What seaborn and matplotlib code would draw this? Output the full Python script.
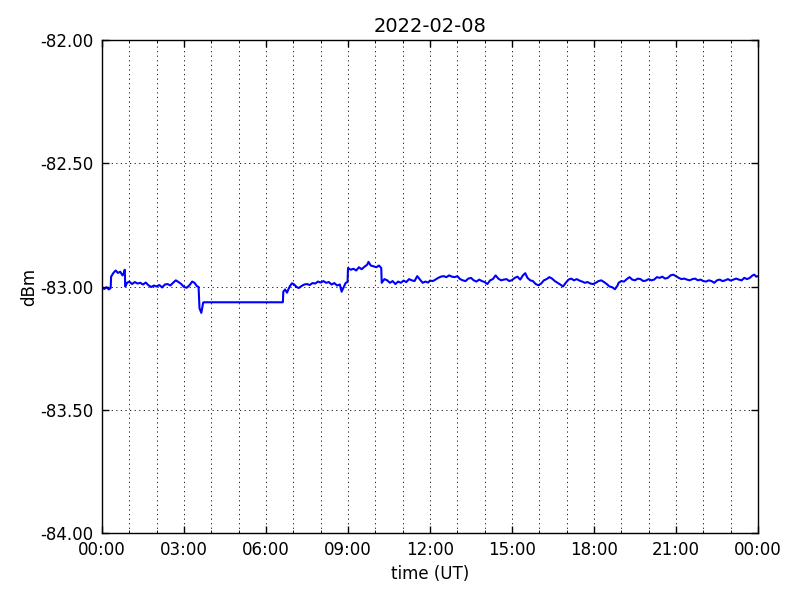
import numpy as np
import pandas as pd
import matplotlib
matplotlib.use("Agg")
import matplotlib.pyplot as plt
import matplotlib.dates as mdates
from matplotlib.ticker import FormatStrFormatter
import seaborn as sns

title = "2022-02-08"
x_label = "time (UT)"
y_label = "dBm"

# sample times (minutes after 00:00 UT) and signal level (dBm)
minutes = [
    0, 5, 10, 15, 19, 20, 25, 30, 35, 40, 45, 48, 50, 51,
    55, 60, 66, 72, 78, 84, 90, 96, 102, 108, 114, 120, 126, 132, 138, 144,
    150, 156, 162, 168, 174, 180, 186, 192, 198, 203, 208, 212,
    214, 218, 222, 223, 397,
    398, 402, 406, 412, 417, 422, 427, 432, 438, 444, 450, 456, 462, 468,
    474, 480, 486, 492, 498, 504, 510, 516, 522, 526, 530, 535, 539,
    540, 546, 552, 558, 564, 570, 576, 582, 585, 590, 596, 602, 608, 613,
    614, 620, 626, 632, 638, 644, 650, 656, 662, 668, 674, 680, 686, 692,
    698, 704, 710, 716, 720,
    726, 732, 738, 744, 750, 756, 762, 768, 774, 780, 786, 792, 798, 804,
    810, 816, 822, 828, 834, 840, 846, 852, 858, 864, 870, 876, 882, 888,
    894, 900, 906, 912, 918, 924, 929, 934, 940, 946, 952, 958, 964, 970,
    976, 982, 988, 994, 1000, 1006, 1012, 1018, 1024, 1030, 1036, 1042,
    1048, 1054, 1060, 1066, 1072, 1078, 1084, 1090, 1096, 1102, 1108, 1114,
    1120, 1126, 1132, 1134, 1140, 1146, 1152, 1158, 1164, 1170, 1176, 1182,
    1188, 1194, 1200, 1206, 1212, 1218, 1224, 1230, 1236, 1242, 1248, 1254,
    1260, 1266, 1272, 1278, 1284, 1290, 1296, 1302, 1308, 1314, 1320, 1326,
    1332, 1338, 1344, 1350, 1356, 1362, 1368, 1374, 1380, 1386, 1392, 1398,
    1404, 1410, 1416, 1422, 1428, 1432, 1436, 1440,
]
dbm = [
    -83.005, -83.010, -83.003, -83.012, -83.006, -82.960, -82.945, -82.935,
    -82.945, -82.940, -82.955, -82.945, -82.932, -83.000,
    -82.985, -82.980, -82.990, -82.982, -82.988, -82.985, -82.992, -82.984,
    -82.995, -83.002, -82.996, -83.000, -82.994, -83.004, -82.992, -82.990,
    -82.996, -82.985, -82.975, -82.982, -82.990, -83.002, -83.005, -82.995,
    -82.980, -82.985, -82.998, -83.002,
    -83.088, -83.107, -83.066, -83.064, -83.064,
    -83.021, -83.012, -83.025, -83.000, -82.987, -82.992, -83.002, -83.006,
    -82.998, -82.992, -82.990, -82.994, -82.986, -82.988,
    -82.980, -82.984, -82.978, -82.985, -82.982, -82.992, -82.986, -82.996,
    -82.992, -83.021, -83.005, -82.985, -82.982,
    -82.925, -82.932, -82.928, -82.935, -82.922, -82.930, -82.920, -82.912,
    -82.900, -82.915, -82.918, -82.922, -82.915, -82.925,
    -82.985, -82.970, -82.975, -82.985, -82.978, -82.990, -82.980, -82.985,
    -82.976, -82.982, -82.970, -82.975, -82.978, -82.958,
    -82.972, -82.985, -82.980, -82.984, -82.976,
    -82.978, -82.972, -82.965, -82.960, -82.958, -82.962, -82.955, -82.960,
    -82.962, -82.958, -82.970, -82.975, -82.978, -82.968,
    -82.965, -82.975, -82.980, -82.972, -82.978, -82.982, -82.990, -82.975,
    -82.970, -82.955, -82.968, -82.975, -82.972, -82.970,
    -82.978, -82.974, -82.965, -82.960, -82.972, -82.955, -82.946, -82.965,
    -82.975, -82.978, -82.990, -82.995, -82.988, -82.975,
    -82.970, -82.962, -82.968, -82.978, -82.985, -82.992, -83.000, -82.985,
    -82.972, -82.968, -82.975, -82.970,
    -82.976, -82.980, -82.985, -82.982, -82.988, -82.990, -82.985, -82.978,
    -82.975, -82.982, -82.990, -83.000,
    -83.003, -83.011, -82.995, -82.985, -82.978, -82.980, -82.970, -82.962,
    -82.972, -82.975, -82.968, -82.970,
    -82.978, -82.976, -82.970, -82.975, -82.972, -82.962, -82.965, -82.960,
    -82.968, -82.965, -82.955, -82.952,
    -82.958, -82.965, -82.970, -82.968, -82.972, -82.975, -82.970, -82.968,
    -82.975, -82.972, -82.978, -82.980,
    -82.975, -82.978, -82.985, -82.975, -82.972, -82.978, -82.975, -82.970,
    -82.976, -82.972, -82.968, -82.972,
    -82.975, -82.965, -82.970, -82.965, -82.955, -82.952, -82.960, -82.958,
]

y_ticks = [-84.0, -83.5, -83.0, -82.5, -82.0]
start = pd.Timestamp("2022-02-08 00:00")
end = pd.Timestamp("2022-02-09 00:00")

df = pd.DataFrame({
    "time": start + pd.to_timedelta(minutes, unit="min"),
    "dBm": dbm,
})

sns.set_style("ticks")
plt.rcParams["font.family"] = ["DejaVu Sans"]
plt.rcParams["text.color"] = "black"
plt.rcParams["axes.labelcolor"] = "black"

fig = plt.figure(figsize=(8, 6), dpi=100, facecolor="white")
ax = fig.add_axes([0.1275, 0.1117, 0.82, 0.8216])

sns.lineplot(data=df, x="time", y="dBm", ax=ax, color="#0000ff",
             linewidth=1.5, estimator=None, sort=False)

ax.set_xlim(start, end)
ax.set_ylim(-84, -82)
ax.set_yticks(y_ticks)
ax.yaxis.set_major_formatter(FormatStrFormatter("%.2f"))
ax.xaxis.set_major_locator(mdates.HourLocator(interval=3))
ax.xaxis.set_minor_locator(mdates.HourLocator(interval=1))
ax.xaxis.set_major_formatter(mdates.DateFormatter("%H:%M"))

grid_style = dict(color="black", linewidth=0.6, linestyle=(0, (1.5, 4)))
ax.grid(True, which="major", axis="both", **grid_style)
ax.grid(True, which="minor", axis="x", **grid_style)
ax.set_axisbelow(False)

ax.tick_params(axis="both", which="major", direction="in", length=5,
               width=1, top=True, right=True, labelsize=12, pad=6,
               colors="black")
ax.tick_params(axis="both", which="minor", direction="in", length=2,
               top=True, right=True, colors="black")
for s in ax.spines.values():
    s.set_visible(True)
    s.set_color("black")
    s.set_linewidth(1.0)

ax.set_xlabel(x_label, fontsize=12, labelpad=4, color="black")
ax.set_ylabel(y_label, fontsize=12, labelpad=2, color="black")
ax.set_title(title, fontsize=14, pad=6, color="black")

fig.savefig("out.png", dpi=100, facecolor="white")
